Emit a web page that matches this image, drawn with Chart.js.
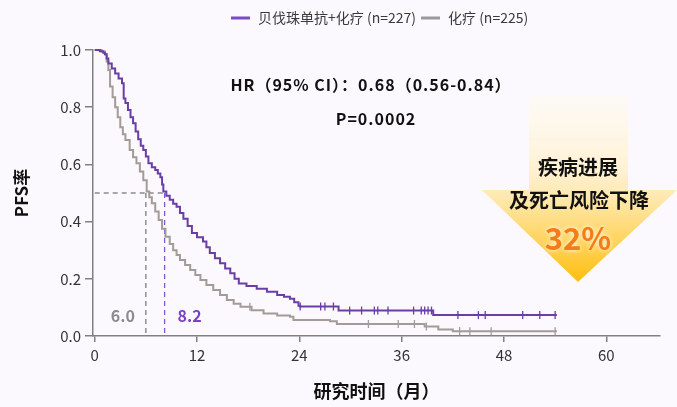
<!DOCTYPE html>
<html>
<head>
<meta charset="utf-8">
<script src="https://cdn.jsdelivr.net/npm/chart.js@4"></script>
<style>
  body { margin: 0; background: #fbf9fd; }
  canvas { display: block; }
</style>
</head>
<body>
<canvas id="pfsChart" width="677" height="407"></canvas>
<script>
// ===== PFS Kaplan-Meier curves =====

const FONT = "'Noto Sans CJK SC', 'Noto Sans', sans-serif";

const seriesLabels = ['贝伐珠单抗+化疗 (n=227)', '化疗 (n=225)'];
const seriesColors = ['#6a3ea6', '#a39b98'];

// months / survival
const comboTimes = [0, 0.6, 1.0, 1.2, 1.4, 1.6, 2.0, 2.4, 2.8, 3.2, 3.4, 3.6, 3.9, 4.2, 4.5, 4.8, 5.1, 5.4, 5.7, 6.0,
    6.3, 6.7, 7.1, 7.4, 7.7, 7.9, 8.05, 8.4, 8.8, 9.2, 9.6, 10.0, 10.4, 10.9, 11.4, 12.0, 12.7, 13.1, 13.5, 14.1,
    14.7, 15.3, 15.9, 16.4, 16.9, 17.8, 19.0, 20.2, 21.4, 22.2, 22.9, 23.4, 23.9, 24.1, 28.6, 39.7, 54.2];
const comboPfs = [1.0, 0.996, 0.99, 0.985, 0.97, 0.953, 0.935, 0.918, 0.9, 0.884, 0.83, 0.815, 0.79, 0.765, 0.744, 0.715, 0.688, 0.665, 0.65, 0.628,
    0.604, 0.59, 0.58, 0.568, 0.555, 0.53, 0.505, 0.49, 0.476, 0.462, 0.452, 0.43, 0.41, 0.385, 0.36, 0.345, 0.33, 0.31, 0.29, 0.272,
    0.254, 0.236, 0.219, 0.2, 0.184, 0.175, 0.165, 0.155, 0.143, 0.137, 0.13, 0.118, 0.106, 0.103, 0.089, 0.073, 0.073];

const chemoTimes = [0, 0.8, 1.2, 1.4, 1.6, 1.8, 2.1, 2.4, 2.7, 3.0, 3.3, 3.6, 4.1, 4.5, 4.9, 5.3, 5.7, 6.1, 6.4, 6.7,
    7.1, 7.5, 7.9, 8.3, 8.8, 9.2, 9.6, 10.0, 10.6, 11.2, 11.8, 12.4, 13.1, 13.9, 14.7, 15.5, 16.3, 17.1, 18.4, 19.8,
    21.4, 22.9, 23.3, 27.6, 28.4, 38.7, 40.3, 42.0, 54.2];
const chemoPfs = [1.0, 0.995, 0.985, 0.96, 0.93, 0.872, 0.835, 0.8, 0.765, 0.73, 0.705, 0.685, 0.65, 0.625, 0.604, 0.575, 0.545, 0.505, 0.485, 0.464,
    0.435, 0.406, 0.375, 0.347, 0.322, 0.3, 0.283, 0.266, 0.248, 0.231, 0.213, 0.196, 0.178, 0.161, 0.143, 0.126, 0.113, 0.102, 0.09, 0.079,
    0.072, 0.067, 0.056, 0.052, 0.042, 0.033, 0.023, 0.017, 0.017];

// censored patients
const comboCensorTimes = [24.1, 26.5, 27.0, 28.0, 29.9, 31.3, 32.8, 33.2, 34.4, 37.4, 38.3, 38.7, 39.1, 39.5, 42.6, 45.0, 45.8, 50.2, 52.2, 54.0];
const comboCensorPfs = [0.103, 0.103, 0.103, 0.103, 0.089, 0.089, 0.089, 0.089, 0.089, 0.089, 0.089, 0.089, 0.089, 0.089, 0.073, 0.073, 0.073, 0.073, 0.073, 0.073];
const chemoCensorTimes = [18.2, 32.1, 35.6, 37.5, 38.9, 42.8, 44.0, 46.5, 54.0];
const chemoCensorPfs = [0.102, 0.042, 0.042, 0.042, 0.033, 0.017, 0.017, 0.017, 0.017];

const medianPfs = [8.2, 6.0];
const xTicks = [0, 12, 24, 36, 48, 60];
const yTicks = [0, 0.2, 0.4, 0.6, 0.8, 1.0];

const hrText = 'HR（95% CI）：0.68（0.56-0.84）';
const pText = 'P=0.0002';
const calloutLines = ['疾病进展', '及死亡风险下降'];
const calloutValue = '32%';

const toPoints = (xs, ys) => xs.map((x, i) => ({ x: x, y: ys[i] }));

function curve(label, xs, ys, color) {
    return {
        label: label, data: toPoints(xs, ys), borderColor: color, borderWidth: 2,
        stepped: true, pointRadius: 0, fill: false, clip: false, order: 1
    };
}

function censors(xs, ys, color) {
    return {
        data: toPoints(xs, ys), showLine: false, pointStyle: 'line', rotation: 90,
        pointRadius: 4, borderColor: color, borderWidth: 1.3, clip: false, order: 0
    };
}

function dashed(points, color) {
    return {
        data: points, borderColor: color, borderWidth: 1.3, borderDash: [5, 4],
        pointRadius: 0, fill: false, order: 2
    };
}

// legend, annotations and the callout arrow
const overlayPlugin = {
    id: 'overlay',
    afterDraw(chart) {
        const ctx = chart.ctx;
        const xs = chart.scales.x;
        ctx.save();

        // legend
        ctx.font = `14px ${FONT}`;
        ctx.textBaseline = 'middle';
        ctx.textAlign = 'left';
        let lx = 231;
        seriesLabels.forEach((label, i) => {
            ctx.strokeStyle = i === 0 ? '#7a4cc0' : '#9a9a9a';
            ctx.lineWidth = 3;
            ctx.beginPath();
            ctx.moveTo(lx, 18);
            ctx.lineTo(lx + 19, 18);
            ctx.stroke();
            ctx.fillStyle = '#3a3a3a';
            ctx.fillText(label, lx + 27, 18);
            lx += 27 + ctx.measureText(label).width + 5;
        });

        // HR / P
        ctx.fillStyle = '#111';
        ctx.font = `bold 16px ${FONT}`;
        ctx.letterSpacing = '1px';
        ctx.textAlign = 'center';
        ctx.fillText(hrText, 371, 85);
        ctx.fillText(pText, 376, 119);
        ctx.letterSpacing = '0px';

        // median labels
        ctx.font = `bold 16px ${FONT}`;
        ctx.fillStyle = '#8c8c8c';
        ctx.fillText(medianPfs[1].toFixed(1), xs.getPixelForValue(medianPfs[1]) - 23, 316);
        ctx.fillStyle = '#7a3fc8';
        ctx.fillText(medianPfs[0].toFixed(1), xs.getPixelForValue(medianPfs[0]) + 25, 316);

        // arrow
        const grad = ctx.createLinearGradient(0, 96, 0, 282);
        grad.addColorStop(0, 'rgba(255,250,238,0.5)');
        grad.addColorStop(0.4, '#fff1d2');
        grad.addColorStop(0.55, '#fee8ad');
        grad.addColorStop(1, '#ffbf10');
        ctx.fillStyle = grad;
        ctx.beginPath();
        ctx.moveTo(529, 96);
        ctx.lineTo(628, 96);
        ctx.lineTo(628, 190);
        ctx.lineTo(677, 190);
        ctx.lineTo(578, 282);
        ctx.lineTo(482, 190);
        ctx.lineTo(529, 190);
        ctx.closePath();
        ctx.fill();

        ctx.fillStyle = '#111';
        ctx.font = `bold 20px ${FONT}`;
        ctx.fillText(calloutLines[0], 578, 167);
        ctx.fillText(calloutLines[1], 579, 200);

        ctx.font = `bold 31px ${FONT}`;
        ctx.shadowColor = '#ffffff';
        ctx.shadowBlur = 5;
        ctx.fillStyle = '#f57c16';
        ctx.fillText(calloutValue, 578, 238);
        ctx.restore();
    }
};

new Chart(document.getElementById('pfsChart'), {
    type: 'line',
    data: {
        datasets: [
            curve(seriesLabels[0], comboTimes, comboPfs, seriesColors[0]),
            curve(seriesLabels[1], chemoTimes, chemoPfs, seriesColors[1]),
            censors(comboCensorTimes, comboCensorPfs, seriesColors[0]),
            censors(chemoCensorTimes, chemoCensorPfs, seriesColors[1]),
            dashed([{ x: 0, y: 0.5 }, { x: medianPfs[0], y: 0.5 }], '#8c8c8c'),
            dashed([{ x: medianPfs[1], y: 0.5 }, { x: medianPfs[1], y: 0 }], '#7f7f7f'),
            dashed([{ x: medianPfs[0], y: 0.5 }, { x: medianPfs[0], y: 0 }], '#8a55d6')
        ]
    },
    options: {
        responsive: false,
        animation: false,
        layout: { padding: { top: 50, right: 17, left: 0, bottom: 0 } },
        plugins: { legend: { display: false }, tooltip: { enabled: false } },
        scales: {
            x: {
                type: 'linear', min: -0.2, max: 66.3,
                afterBuildTicks: (axis) => { axis.ticks = xTicks.map(v => ({ value: v })); },
                afterFit: (axis) => { axis.height = 71; },
                ticks: { color: '#333', font: { family: FONT, size: 15 }, padding: 4, maxRotation: 0 },
                grid: { drawOnChartArea: false, color: '#808080', lineWidth: 1.5, tickLength: 6 },
                border: { color: '#808080', width: 1.5 },
                title: {
                    display: true, text: '研究时间（月）', color: '#111',
                    font: { family: FONT, size: 18, weight: 'bold' }, padding: { top: 4, bottom: 5 }
                }
            },
            y: {
                min: 0, max: 1,
                afterBuildTicks: (axis) => { axis.ticks = yTicks.map(v => ({ value: v })); },
                afterFit: (axis) => { axis.width = 93; },
                ticks: {
                    color: '#333', font: { family: FONT, size: 15 }, padding: 4,
                    callback: (v) => Number(v).toFixed(1)
                },
                grid: { drawOnChartArea: false, color: '#808080', lineWidth: 1.5, tickLength: 8 },
                border: { color: '#808080', width: 1.5 },
                title: {
                    display: true, text: 'PFS率', color: '#111',
                    font: { family: FONT, size: 17, weight: 'bold' }, padding: { top: 11, bottom: 0 }
                }
            }
        }
    },
    plugins: [overlayPlugin]
});
</script>
</body>
</html>
